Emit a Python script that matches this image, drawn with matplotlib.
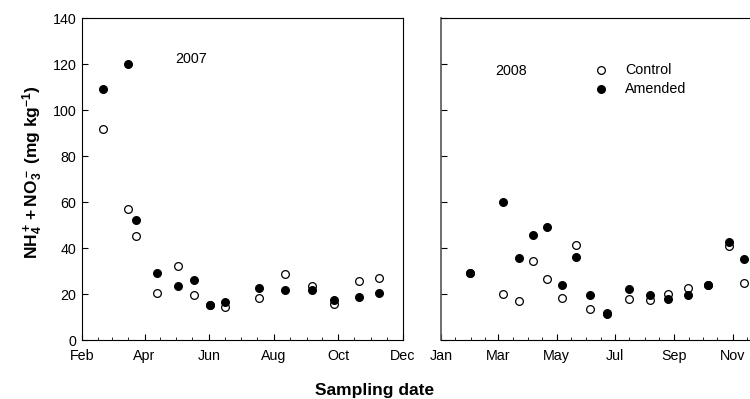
import matplotlib
matplotlib.use("Agg")
import matplotlib.pyplot as plt
import matplotlib.dates as mdates
import numpy as np
import datetime as dt

plt.rcParams['font.family'] = ['Liberation Sans', 'DejaVu Sans']
plt.rcParams['mathtext.fontset'] = 'custom'
plt.rcParams['mathtext.rm'] = 'Liberation Sans'
plt.rcParams['mathtext.bf'] = 'Liberation Sans:bold'
plt.rcParams['mathtext.it'] = 'Liberation Sans:italic'

# 2007 data
dates_2007 = ["2007-02-21", "2007-03-16", "2007-03-24", "2007-04-13", "2007-05-03",
              "2007-05-18", "2007-06-02", "2007-06-16", "2007-07-18", "2007-08-12",
              "2007-09-06", "2007-09-27", "2007-10-20", "2007-11-08"]
control_2007 = [91.7, 56.8, 45.4, 20.4, 32.3, 19.6, 15.3, 14.2, 18.4, 28.6, 23.3, 15.5, 25.8, 27.1]
amended_2007 = [109.1, 119.9, 52.0, 29.1, 23.5, 26.2, 15.1, 16.5, 22.8, 21.7, 21.9, 17.5, 18.8, 20.4]

# 2008 data
dates_2008 = ["2008-01-31", "2008-03-06", "2008-03-23", "2008-04-06", "2008-04-21",
              "2008-05-06", "2008-05-21", "2008-06-05", "2008-06-23", "2008-07-15",
              "2008-08-06", "2008-08-25", "2008-09-15", "2008-10-06", "2008-10-28",
              "2008-11-13"]
control_2008 = [29.1, 20.1, 17.1, 34.5, 26.5, 18.4, 41.2, 13.3, 11.6, 17.7, 17.5, 20.0, 22.6, 24.0, 40.8, 24.6]
amended_2008 = [29.1, 59.8, 35.7, 45.6, 49.1, 23.8, 36.1, 19.7, 11.1, 22.3, 19.7, 17.8, 19.7, 23.9, 42.4, 35.1]

yticks = [0, 20, 40, 60, 80, 100, 120, 140]

def to_dates(lst):
    return [dt.datetime.strptime(s, "%Y-%m-%d") for s in lst]

FS = 10.3
fig = plt.figure(figsize=(7.5, 3.99), dpi=100)
W, H = 750.0, 399.0
ax1 = fig.add_axes([82 / W, (H - 340) / H, 321 / W, 322 / H])
ax2 = fig.add_axes([441 / W, (H - 340) / H, 309 / W, 322 / H])

ms = 31
for ax, d, c, a in [(ax1, dates_2007, control_2007, amended_2007),
                    (ax2, dates_2008, control_2008, amended_2008)]:
    dd = to_dates(d)
    ax.scatter(dd, c, s=ms, facecolors='white', edgecolors='black', linewidths=0.9,
               zorder=3, label='Control', clip_on=False)
    ax.scatter(dd, a, s=ms, facecolors='black', edgecolors='black', linewidths=0.9,
               zorder=4, label='Amended', clip_on=False)
    ax.set_ylim(0, 140)
    ax.set_yticks(yticks)
    ax.xaxis.set_major_locator(mdates.MonthLocator(bymonth=[1, 3, 5, 7, 9, 11] if ax is ax2 else [2, 4, 6, 8, 10, 12]))
    ax.xaxis.set_major_formatter(mdates.DateFormatter('%b'))
    ax.xaxis.set_minor_locator(mdates.MonthLocator(bymonthday=[1, 16]))
    ax.tick_params(axis='both', which='major', direction='in', length=4.5, width=0.8,
                   labelsize=FS, pad=4)
    ax.tick_params(axis='x', which='major', pad=6.5)
    ax.tick_params(axis='x', which='minor', direction='in', length=2.2, width=0.6)
    for sp in ax.spines.values():
        sp.set_linewidth(0.8)

ax1.set_xlim(dt.datetime(2007, 2, 1), dt.datetime(2007, 12, 1))
ax1.set_yticklabels([str(v) for v in yticks])
ax2.set_xlim(dt.datetime(2008, 1, 1), dt.datetime(2008, 11, 19))
ax2.set_yticklabels([])
ax2.spines['right'].set_visible(False)
ax2.spines['left'].set_color('#555555')
ax2.spines['left'].set_linewidth(1.2)

ax1.text(dt.datetime(2007, 5, 15), 122, '2007', fontsize=FS, ha='center', va='center')
ax2.text(dt.datetime(2008, 3, 14), 117, '2008', fontsize=FS, ha='center', va='center')

ax2.legend(loc='upper left', bbox_to_anchor=(0.495, 0.86), frameon=False, fontsize=FS,
           handletextpad=1.2, labelspacing=0.34, borderpad=0, handlelength=1.0,
           borderaxespad=0, scatterpoints=1)

fig.text(33 / W, 1 - 172 / H,
         r'$\mathbf{NH_4^+ + NO_3^-\ (mg\ kg^{-1})}$',
         rotation=90, ha='center', va='center', fontsize=12.5)
fig.text(375 / W, 1 - 391 / H, 'Sampling date', ha='center', va='center',
         fontsize=12.5, fontweight='bold')

fig.savefig('out.png', dpi=100)
